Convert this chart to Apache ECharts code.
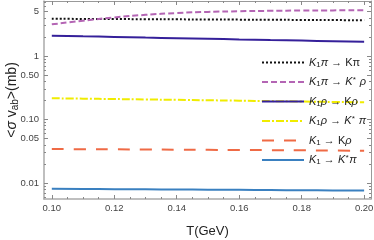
<!DOCTYPE html>
<html><head><meta charset="utf-8">
<script src="https://cdn.jsdelivr.net/npm/echarts@6/dist/echarts.min.js"></script>
<style>html,body{margin:0;padding:0;background:#fff}#c{width:374px;height:240px}</style>
</head><body><div id="c"></div>
<script>
const T = [0.10,0.11,0.12,0.13,0.14,0.15,0.16,0.17,0.18,0.19,0.20];
const K1pi_Kpi    = [3.85,3.84,3.82,3.80,3.78,3.76,3.74,3.72,3.70,3.68,3.66];
const K1pi_Ksrho  = [3.15,3.60,4.05,4.45,4.75,4.95,5.07,5.15,5.20,5.23,5.25];
const K1rho_Krho  = [2.09,2.04,2.00,1.95,1.91,1.87,1.82,1.78,1.75,1.71,1.68];
const K1rho_Kspi  = [0.216,0.213,0.210,0.207,0.204,0.201,0.198,0.195,0.192,0.189,0.187];
const K1_Krho     = [0.0343,0.0341,0.0339,0.0337,0.0335,0.0333,0.0331,0.0329,0.0327,0.0325,0.0322];
const K1_Kspi     = [0.00810,0.00805,0.00800,0.00795,0.00790,0.00785,0.00780,0.00775,0.00770,0.00765,0.00760];
const xTicks = [0.10,0.12,0.14,0.16,0.18,0.20];
const xMinor = [0.105,0.11,0.115,0.125,0.13,0.135,0.145,0.15,0.155,0.165,0.17,0.175,0.185,0.19,0.195];
const yTicks = [0.01,0.05,0.1,0.5,1,5];
const yTickLabels = ['0.01','0.05','0.10','0.50','1','5'];
const yMinor = [0.006,0.007,0.008,0.009,0.02,0.03,0.04,0.06,0.07,0.08,0.09,0.2,0.3,0.4,0.6,0.7,0.8,0.9,2,3,4,6,7];
const names = ['K1pi_Kpi','K1pi_Ksrho','K1rho_Krho','K1rho_Kspi','K1_Krho','K1_Kspi'];
const labels = {
  K1pi_Kpi:   '{i|K}{b|1}{i|π}{n| → Kπ}',
  K1pi_Ksrho: '{i|K}{b|1}{i|π}{n| → }{i|K}{s|*}{n| }{i|ρ}',
  K1rho_Krho: '{i|K}{b|1}{i|ρ}{n| → K}{i|ρ}',
  K1rho_Kspi: '{i|K}{b|1}{i|ρ}{n| → }{i|K}{s|*}{n| }{i|π}',
  K1_Krho:    '{i|K}{b|1}{n| → K}{i|ρ}',
  K1_Kspi:    '{i|K}{b|1}{n| → }{i|K}{s|*}{i|π}'
};
const seriesData = [K1pi_Kpi,K1pi_Ksrho,K1rho_Krho,K1rho_Kspi,K1_Krho,K1_Kspi];
const styles = [
  {color:'#111111', type:[2,2]},
  {color:'#b465b4', type:[6,3]},
  {color:'#35209a', type:'solid'},
  {color:'#f0ec00', type:[8,2,2,2]},
  {color:'#ef6a45', type:[12,10]},
  {color:'#3a80c0', type:'solid'}
];
const FONT = 'Liberation Sans';
const XMIN = 0.0975, XMAX = 0.2022, YMIN = 0.0056, YMAX = 7.35;
const frameMain = {show:true, lineStyle:{color:'#aaaaaa', width:1.5}};
const frameSide = {show:true, lineStyle:{color:'#999999', width:1}};
function xAx(pos, vals, len, line, lab) {
  return {type:'value', position:pos, min:XMIN, max:XMAX, gridIndex:0,
    axisLine: line ? (lab ? frameMain : frameSide) : {show:false},
    axisTick:{show:true, inside:true, length:len, customValues:vals, lineStyle:{color:'#888'}},
    axisLabel: lab ? {show:true, customValues:xTicks, formatter:v=>v.toFixed(2), fontFamily:FONT, fontSize:9.5, color:'#444', margin:4} : {show:false},
    splitLine:{show:false}};
}
function yAx(pos, vals, len, line, lab) {
  return {type:'log', position:pos, min:YMIN, max:YMAX, logBase:10, gridIndex:0,
    axisLine: line ? (lab ? frameMain : frameSide) : {show:false},
    axisTick:{show:true, inside:true, length:len, customValues:vals, lineStyle:{color:'#888'}},
    axisLabel: lab ? {show:true, customValues:yTicks, formatter:v=>{const i=yTicks.findIndex(t=>Math.abs(t-v)/t<1e-6);return i>=0?yTickLabels[i]:'';}, fontFamily:FONT, fontSize:9.5, color:'#444', margin:5} : {show:false},
    splitLine:{show:false}};
}
const xAxes = [xAx('bottom', xTicks, 4, true, true), xAx('bottom', xMinor, 2, false, false), xAx('top', xTicks, 4, true, false), xAx('top', xMinor, 2, false, false)];
const yAxes = [yAx('left', yTicks, 4, true, true), yAx('left', yMinor, 2, false, false), yAx('right', yTicks, 4, true, false), yAx('right', yMinor, 2, false, false)];
xAxes[0].name = 'T(GeV)';
xAxes[0].nameLocation = 'middle';
xAxes[0].nameGap = 26;
xAxes[0].nameMoveOverlap = false;
xAxes[0].nameTextStyle = {fontFamily:FONT, fontSize:13, color:'#222'};
yAxes[0].name = '{n|<}{i|σ}{n| v}{sub|ab}{n|>(mb)}';
yAxes[0].nameLocation = 'middle';
yAxes[0].nameGap = 24;
yAxes[0].nameMoveOverlap = false;
yAxes[0].nameTextStyle = {fontFamily:FONT, fontSize:13, color:'#222', rich:{
  n:{fontFamily:FONT, fontSize:14, color:'#222'},
  i:{fontFamily:FONT, fontSize:14, fontStyle:'italic', color:'#222'},
  sub:{fontFamily:FONT, fontSize:10, color:'#222', padding:[5,0,0,0]}
}};
const chart = echarts.init(document.getElementById('c'), null, {renderer:'canvas'});
chart.setOption({
  animation:false,
  backgroundColor:'#fff',
  grid:{left:44, right:3, top:1, bottom:41, containLabel:false, outerBoundsMode:'none'},
  xAxis:xAxes,
  yAxis:yAxes,
  legend:{
    orient:'vertical', left:256, top:51, itemWidth:42, itemHeight:10, itemGap:6.5,
    data:names,
    itemStyle:{opacity:0},
    formatter: n => labels[n],
    textStyle:{fontFamily:FONT, fontSize:11, color:'#222', lineHeight:13, rich:{
      n:{fontFamily:FONT, fontSize:11, color:'#222'},
      i:{fontFamily:FONT, fontSize:11, fontStyle:'italic', color:'#222'},
      b:{fontFamily:FONT, fontSize:8, color:'#222', padding:[4,0,0,0]},
      s:{fontFamily:FONT, fontSize:8, fontStyle:'italic', color:'#222', padding:[0,1,5,0]}
    }}
  },
  series: names.map((n,k)=>({
    name:n, type:'line', xAxisIndex:0, yAxisIndex:0, symbol:'none', smooth:true,
    data: T.map((t,i)=>[t, seriesData[k][i]]),
    lineStyle:{color:styles[k].color, type:styles[k].type, width:2},
    itemStyle:{color:styles[k].color}
  }))
});
</script></body></html>
